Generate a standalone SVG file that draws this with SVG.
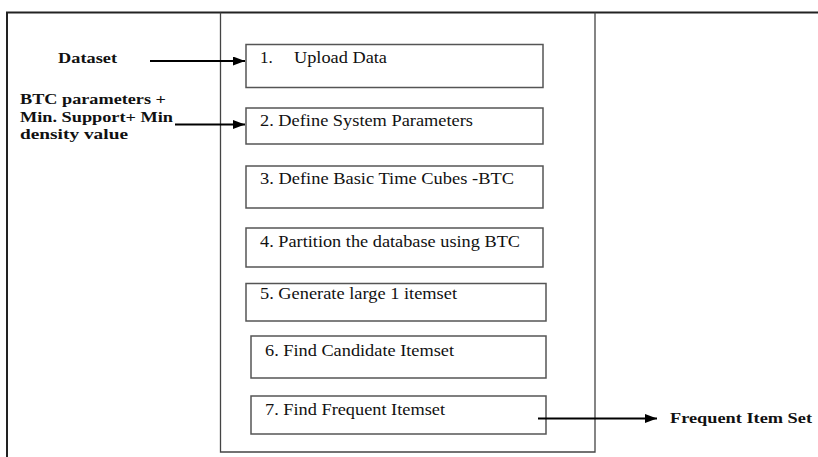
<svg xmlns="http://www.w3.org/2000/svg" width="818" height="457" viewBox="0 0 818 457" font-family="Liberation Serif, DejaVu Serif, serif">
<style>
.frame{fill:none;stroke:#222;stroke-width:2}
.inner{fill:none;stroke:#444;stroke-width:1.3}
.box{fill:#fff;stroke:#555;stroke-width:1.5}
text{font-family:"Liberation Serif",serif}
.t{font-size:17px;fill:#111}
.b{font-size:15px;font-weight:bold;fill:#111}
.c{fill:none;stroke:#000;stroke-width:2}
</style>
<defs>
<marker id="ah" viewBox="0 0 12 9" refX="12" refY="4.5" markerWidth="12" markerHeight="9" markerUnits="userSpaceOnUse" orient="auto">
<path d="M0,0 L12,4.5 L0,9 z" fill="#000"/>
</marker>
</defs>
<rect width="818" height="457" fill="#fff"/>
<g id="frame">
<path class="frame" d="M7,457 V12.5 H818"/>
<path class="inner" d="M220.5,12.5 V452 H595 V12.5"/>
</g>
<g id="labels">
<text class="b" x="58" y="63" textLength="59" lengthAdjust="spacingAndGlyphs">Dataset</text>
<text class="b" x="20" y="104" textLength="146" lengthAdjust="spacingAndGlyphs">BTC parameters +</text>
<text class="b" x="20" y="122" textLength="153" lengthAdjust="spacingAndGlyphs">Min. Support+ Min</text>
<text class="b" x="20" y="139" textLength="108" lengthAdjust="spacingAndGlyphs">density value</text>
<text class="b" x="670" y="423" textLength="142" lengthAdjust="spacingAndGlyphs">Frequent Item Set</text>
</g>
<g id="n1">
<rect class="box" x="246" y="44.5" width="297" height="43"/>
<text class="t" x="260" y="63">1.</text>
<text class="t" x="294" y="63" textLength="93" lengthAdjust="spacingAndGlyphs">Upload Data</text>
</g>
<g id="n2">
<rect class="box" x="246" y="108" width="297" height="36"/>
<text class="t" x="260" y="125.5" textLength="213" lengthAdjust="spacingAndGlyphs">2. Define System Parameters</text>
</g>
<g id="n3">
<rect class="box" x="246" y="166" width="297" height="42"/>
<text class="t" x="260" y="183.5" textLength="254" lengthAdjust="spacingAndGlyphs">3. Define Basic Time Cubes -BTC</text>
</g>
<g id="n4">
<rect class="box" x="246" y="228" width="297" height="39"/>
<text class="t" x="260" y="247" textLength="260" lengthAdjust="spacingAndGlyphs">4. Partition the database using BTC</text>
</g>
<g id="n5">
<rect class="box" x="246" y="283.5" width="300" height="37.5"/>
<text class="t" x="260" y="298.5" textLength="197" lengthAdjust="spacingAndGlyphs">5. Generate large 1 itemset</text>
</g>
<g id="n6">
<rect class="box" x="251" y="336" width="295" height="42"/>
<text class="t" x="265" y="355.5" textLength="189" lengthAdjust="spacingAndGlyphs">6. Find Candidate Itemset</text>
</g>
<g id="n7">
<rect class="box" x="251" y="396" width="295" height="38"/>
<text class="t" x="265" y="415" textLength="180" lengthAdjust="spacingAndGlyphs">7. Find Frequent Itemset</text>
</g>
<g id="connectors">
<path class="c" d="M150,61 H245" marker-end="url(#ah)"/>
<path class="c" d="M175,124.5 H245" marker-end="url(#ah)"/>
<path class="c" d="M538,418.5 H657" marker-end="url(#ah)"/>
</g>
</svg>
